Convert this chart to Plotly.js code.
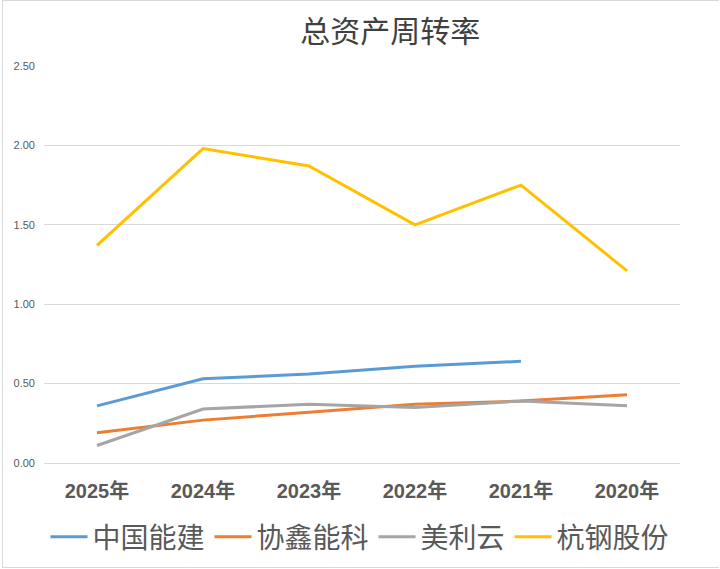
<!DOCTYPE html>
<html>
<head>
<meta charset="utf-8">
<script src="https://cdn.plot.ly/plotly-3.0.1.min.js"></script>
<style>
html,body{margin:0;padding:0;background:#fff;}
#wrap{position:relative;width:720px;height:569px;}
#chart{width:720px;height:569px;}
#frame{position:absolute;left:2px;top:0px;width:716px;height:566px;border:1px solid #d9d9d9;border-right:none;pointer-events:none;}
</style>
</head>
<body>
<div id="wrap"><div id="chart"></div><div id="frame"></div></div>
<script>
const categories = ["2025年","2024年","2023年","2022年","2021年","2020年"];
const seriesNames = ["中国能建","协鑫能科","美利云","杭钢股份"];
const zgnj = [0.36, 0.53, 0.56, 0.61, 0.64, null];
const xxnk = [0.19, 0.27, 0.32, 0.37, 0.39, 0.43];
const mly  = [0.11, 0.34, 0.37, 0.35, 0.39, 0.36];
const hggf = [1.37, 1.98, 1.87, 1.50, 1.75, 1.21];
const yTicks = [0, 0.5, 1.0, 1.5, 2.0, 2.5];
const yTickText = ["0.00","0.50","1.00","1.50","2.00","2.50"];
const colors = ["#5B9BD5","#ED7D31","#A5A5A5","#FFC000"];

const data = [zgnj, xxnk, mly, hggf].map((vals, i) => ({
  type: "scatter",
  mode: "lines",
  x: categories,
  y: vals,
  name: seriesNames[i],
  line: {color: colors[i], width: 3},
  connectgaps: false,
  hoverinfo: "x+y+name"
}));

const layout = {
  width: 720,
  height: 569,
  paper_bgcolor: "#ffffff",
  plot_bgcolor: "#ffffff",
  margin: {l: 44, r: 40, t: 66, b: 106},
  title: {
    text: "总资产周转率",
    font: {family: "Noto Sans CJK SC", size: 30, color: "#404040"},
    x: 0.542, xref: "container", xanchor: "center",
    y: 0.944, yref: "container", yanchor: "middle"
  },
  xaxis: {
    type: "category",
    range: [-0.5, 5.5],
    showgrid: false,
    zeroline: false,
    showline: false,
    ticks: "",
    ticklabelstandoff: 14,
    tickfont: {family: "Liberation Sans, Noto Sans CJK SC", size: 20, color: "#595959", weight: "bold"}
  },
  yaxis: {
    range: [0, 2.5],
    tickvals: yTicks,
    ticktext: yTickText,
    showgrid: true,
    gridcolor: "#d9d9d9",
    gridwidth: 1,
    zeroline: true,
    zerolinecolor: "#d9d9d9",
    zerolinewidth: 1,
    showline: false,
    ticks: "",
    ticklabelstandoff: 8,
    tickfont: {family: "Liberation Sans", size: 11, color: "#595959"}
  },
  showlegend: true,
  legend: {
    orientation: "h",
    x: 0.5, xref: "container", xanchor: "center",
    y: 0.056, yref: "container", yanchor: "middle",
    font: {family: "Noto Sans CJK SC", size: 28, color: "#595959"},
    itemwidth: 37,
    traceorder: "normal"
  }
};

Plotly.newPlot("chart", data, layout, {displayModeBar: false, staticPlot: false});
</script>
</body>
</html>
